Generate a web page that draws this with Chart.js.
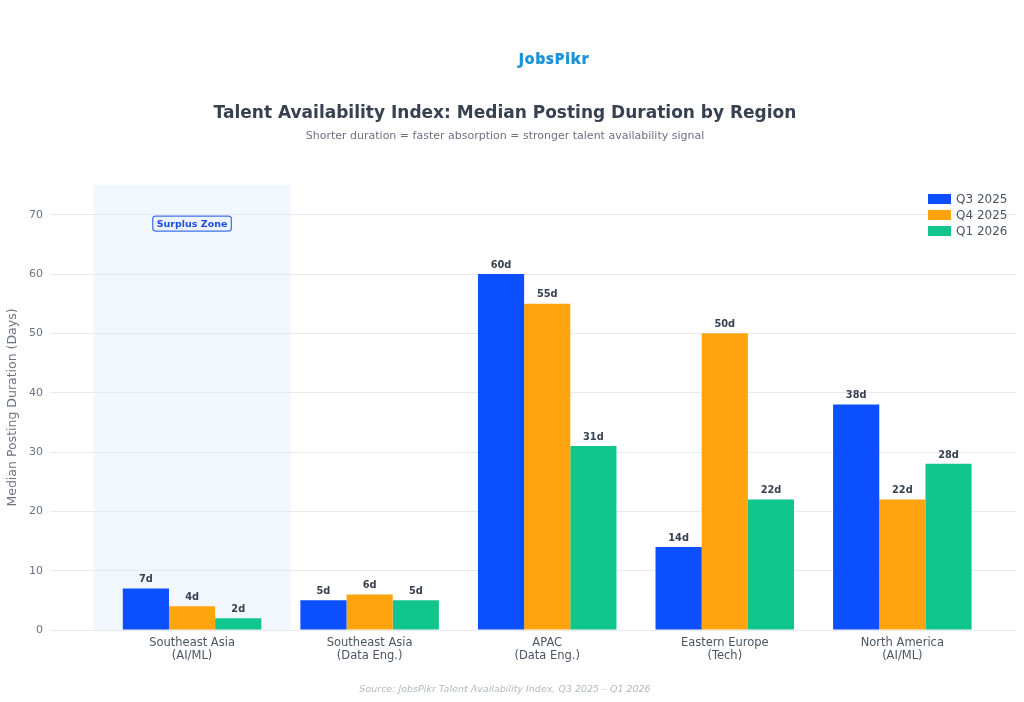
<!DOCTYPE html>
<html>
<head>
<meta charset="utf-8">
<script src="https://cdn.jsdelivr.net/npm/chart.js@4/dist/chart.umd.min.js"></script>
<style>
  html, body { margin: 0; padding: 0; background: #ffffff; }
  #wrap { position: relative; width: 1024px; height: 702px; overflow: hidden; }
  #c { position: absolute; left: 0; top: 0; }
  .txt { position: absolute; left: 0; width: 1010px; text-align: center; white-space: nowrap; }
  #logo { top: 47px; left: 554px; width: 0; font-family: "Open Sans", sans-serif; font-weight: 800; font-size: 16px; color: #1d93d8; letter-spacing: 0.4px; }
  #logo span { display: inline-block; transform: translateX(-50%); }
  #title { top: 102px; font-family: "DejaVu Sans", sans-serif; font-weight: bold; font-size: 17px; color: #374151; }
  #subtitle { top: 129px; font-family: "DejaVu Sans", sans-serif; font-size: 11px; color: #6b7280; }
  #source { top: 683px; font-family: "DejaVu Sans", sans-serif; font-style: italic; font-size: 9.5px; color: #b3b7bf; }
</style>
</head>
<body>
<div id="wrap">
  <canvas id="c" width="1024" height="702"></canvas>
  <div id="logo" class="txt"><span>JobsPikr</span></div>
  <div id="title" class="txt">Talent Availability Index: Median Posting Duration by Region</div>
  <div id="subtitle" class="txt">Shorter duration = faster absorption = stronger talent availability signal</div>
  <div id="source" class="txt">Source: JobsPikr Talent Availability Index, Q3 2025 – Q1 2026</div>
</div>
<script>
// ---- data ----
const categories = [
  ["Southeast Asia", "(AI/ML)"],
  ["Southeast Asia", "(Data Eng.)"],
  ["APAC", "(Data Eng.)"],
  ["Eastern Europe", "(Tech)"],
  ["North America", "(AI/ML)"]
];
const seriesNames = ["Q3 2025", "Q4 2025", "Q1 2026"];
const q3_2025 = [7, 5, 60, 14, 38];
const q4_2025 = [4, 6, 55, 50, 22];
const q1_2026 = [2, 5, 31, 22, 28];
const yTicks = [0, 10, 20, 30, 40, 50, 60, 70];
const surplusZoneLabel = "Surplus Zone";
const surplusZoneCategory = 0;

const seriesColors = ["#0b4fff", "#ffa30f", "#10c68c"];
const seriesValues = [q3_2025, q4_2025, q1_2026];

const datasets = seriesNames.map((name, s) => ({
  label: name,
  data: seriesValues[s].map((v, i) => ({ x: i, y: v })),
  backgroundColor: seriesColors[s],
  borderWidth: 0,
  categoryPercentage: 0.78,
  barPercentage: 1.0
}));

const bgPlugin = {
  id: "bg",
  beforeDraw(chart) {
    const { ctx, chartArea, scales } = chart;
    ctx.save();
    ctx.fillStyle = "#ffffff";
    ctx.fillRect(0, 0, chart.width, chart.height);
    const x0 = scales.x.getPixelForValue(surplusZoneCategory - 0.555);
    const x1 = scales.x.getPixelForValue(surplusZoneCategory + 0.555);
    ctx.fillStyle = "#f2f6fd";
    ctx.fillRect(x0, chartArea.top, x1 - x0, chartArea.bottom - chartArea.top);
    ctx.restore();
  }
};

const labelPlugin = {
  id: "labels",
  afterDatasetsDraw(chart) {
    const { ctx, scales } = chart;
    ctx.save();
    ctx.font = "bold 9.8px 'DejaVu Sans'";
    ctx.fillStyle = "#374151";
    ctx.textAlign = "center";
    ctx.textBaseline = "bottom";
    chart.data.datasets.forEach((ds, di) => {
      const meta = chart.getDatasetMeta(di);
      meta.data.forEach((bar, i) => {
        ctx.fillText(ds.data[i].y + "d", bar.x, bar.y - 4);
      });
    });
    // Surplus zone annotation
    const cx = scales.x.getPixelForValue(surplusZoneCategory);
    const cy = scales.y.getPixelForValue(68.5);
    ctx.font = "bold 9.5px 'DejaVu Sans'";
    const w = ctx.measureText(surplusZoneLabel).width + 8;
    const h = 15;
    ctx.beginPath();
    ctx.roundRect(cx - w / 2, cy - h / 2, w, h, 3);
    ctx.fillStyle = "#eef4ff";
    ctx.fill();
    ctx.lineWidth = 1.2;
    ctx.strokeStyle = "#3f73e6";
    ctx.stroke();
    ctx.fillStyle = "#1d4ed8";
    ctx.textBaseline = "middle";
    ctx.fillText(surplusZoneLabel, cx, cy + 0.5);
    ctx.restore();
  },
  afterDraw(chart) {
    const { ctx, chartArea } = chart;
    ctx.save();
    ctx.font = "12px 'DejaVu Sans'";
    ctx.textBaseline = "middle";
    ctx.textAlign = "left";
    const bx = chartArea.right - 88;
    chart.data.datasets.forEach((ds, i) => {
      const y = chartArea.top + 14 + i * 16;
      ctx.fillStyle = ds.backgroundColor;
      ctx.fillRect(bx, y - 5, 23, 10);
      ctx.fillStyle = "#4b5563";
      ctx.fillText(ds.label, bx + 28, y + 0.5);
    });
    ctx.restore();
  }
};

new Chart(document.getElementById("c"), {
  type: "bar",
  data: { datasets },
  plugins: [bgPlugin, labelPlugin],
  options: {
    responsive: false,
    animation: false,
    layout: { padding: { top: 185, right: 8, left: 0, bottom: 10 } },
    plugins: { legend: { display: false }, tooltip: { enabled: false }, title: { display: false } },
    scales: {
      x: {
        type: "linear",
        offset: false,
        min: -0.8,
        max: 4.64,
        grid: { display: false, drawTicks: false },
        border: { display: false },
        afterBuildTicks(axis) { axis.ticks = categories.map((_, i) => ({ value: i })); },
        afterFit(axis) { axis.height = 62; },
        ticks: {
          autoSkip: false,
          maxRotation: 0,
          padding: 6,
          color: "#4b5563",
          font: { family: "DejaVu Sans", size: 11.5, lineHeight: 1.15 },
          callback: (v) => categories[v]
        }
      },
      y: {
        min: 0,
        max: 75,
        afterBuildTicks(axis) { axis.ticks = yTicks.map(v => ({ value: v })); },
        afterFit(axis) { axis.width = 50; },
        grid: { color: "#e6eaf0", lineWidth: 1, drawTicks: false },
        border: { display: false },
        ticks: { padding: 7, color: "#6b7280", font: { family: "DejaVu Sans", size: 11 } },
        title: {
          display: true,
          text: "Median Posting Duration (Days)",
          color: "#6b7280",
          font: { family: "DejaVu Sans", size: 12.5 },
          padding: { top: 5, bottom: 0 }
        }
      }
    }
  }
});
</script>
</body>
</html>
